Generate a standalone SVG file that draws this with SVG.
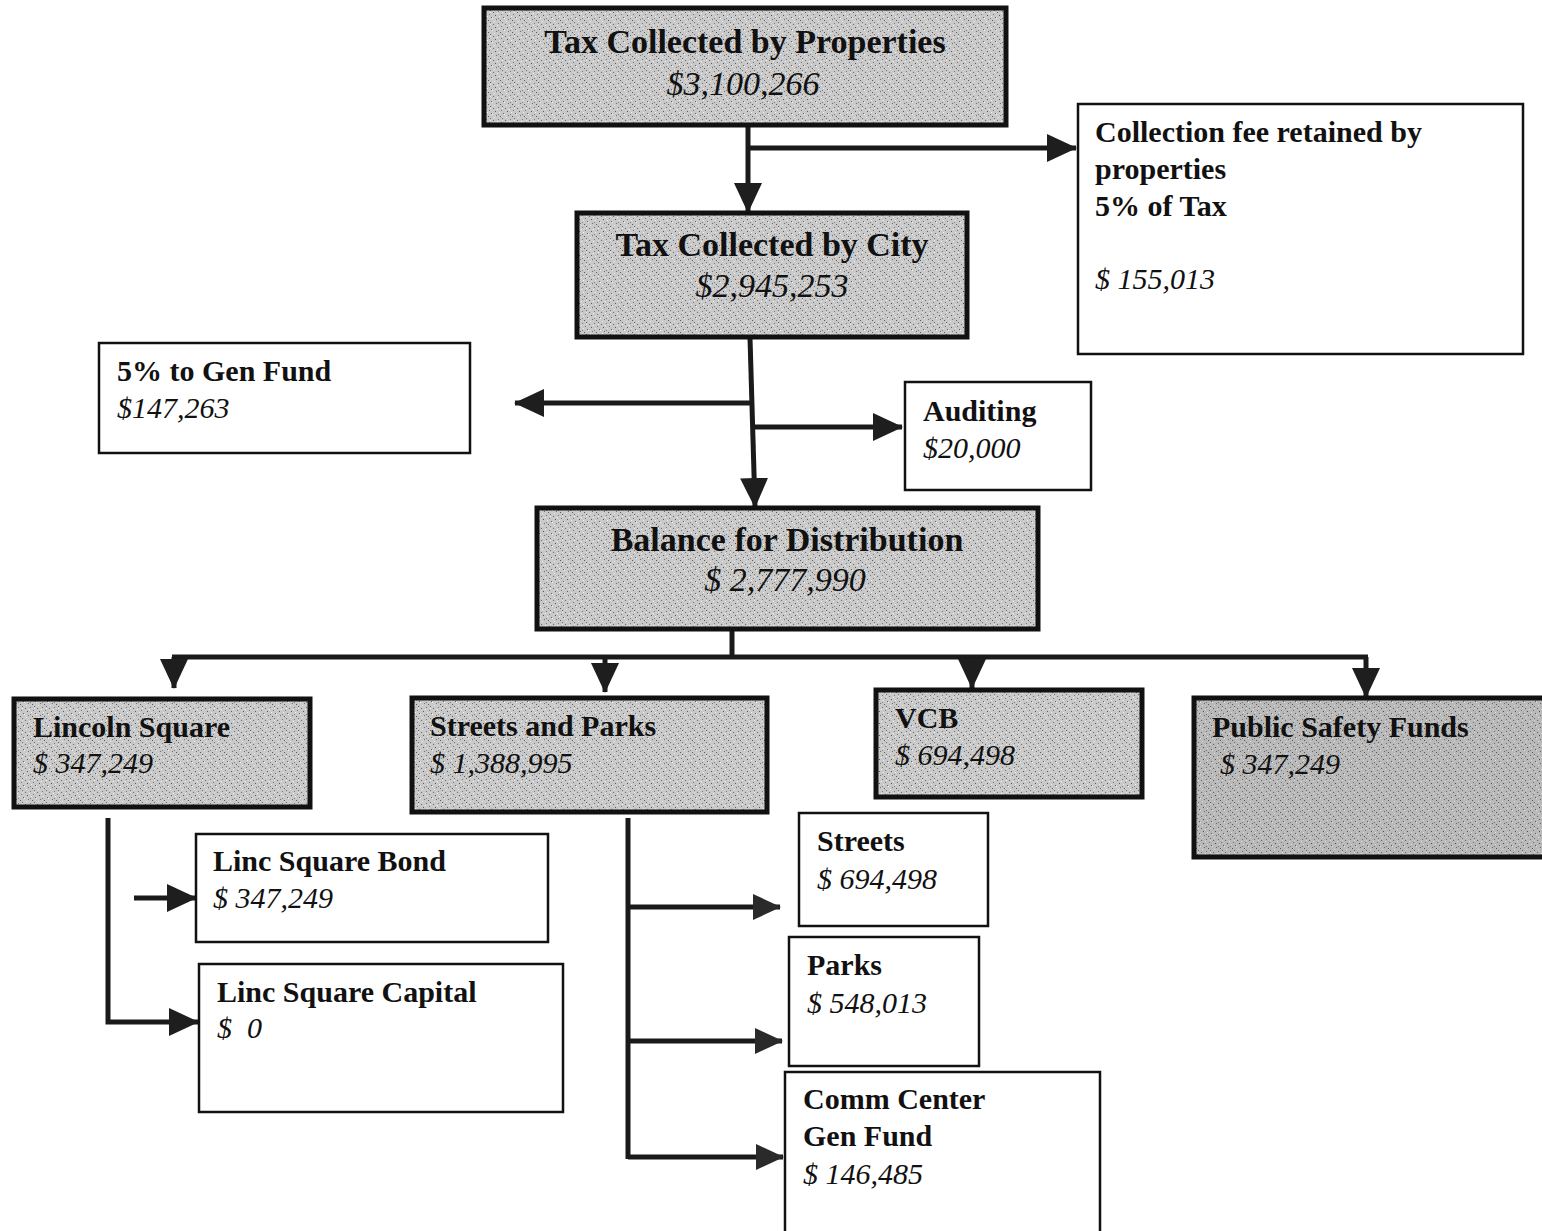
<svg xmlns="http://www.w3.org/2000/svg" width="1542" height="1231" viewBox="0 0 1542 1231">
<defs>
<pattern id="stip" width="12" height="12" patternUnits="userSpaceOnUse">
<rect width="12" height="12" fill="#c9c9c9"/>
<rect x="1" y="0" width="1" height="1" fill="#6a6a6a"/>
<rect x="5" y="1" width="1" height="1" fill="#f2f2f2"/>
<rect x="9" y="2" width="1" height="1" fill="#777"/>
<rect x="3" y="3" width="1" height="1" fill="#555"/>
<rect x="7" y="4" width="1" height="1" fill="#eee"/>
<rect x="11" y="5" width="1" height="1" fill="#666"/>
<rect x="0" y="6" width="1" height="1" fill="#f4f4f4"/>
<rect x="4" y="7" width="1" height="1" fill="#707070"/>
<rect x="8" y="8" width="1" height="1" fill="#5c5c5c"/>
<rect x="2" y="9" width="1" height="1" fill="#efefef"/>
<rect x="10" y="10" width="1" height="1" fill="#6e6e6e"/>
<rect x="6" y="11" width="1" height="1" fill="#7a7a7a"/>
<rect x="10" y="0" width="1" height="1" fill="#ececec"/>
<rect x="6" y="6" width="1" height="1" fill="#808080"/>
</pattern>
<pattern id="stipd" width="12" height="12" patternUnits="userSpaceOnUse">
<rect width="12" height="12" fill="url(#stip)"/>
<rect width="12" height="12" fill="#000" opacity="0.08"/>
</pattern>
<marker id="ah" viewBox="0 0 30 28" refX="29" refY="14" markerWidth="30" markerHeight="28" markerUnits="userSpaceOnUse" orient="auto">
<path d="M0,0 L30,14 L0,28 Z" fill="#1e1e1e"/>
</marker>
<marker id="ahs" viewBox="0 0 28 26" refX="27" refY="13" markerWidth="28" markerHeight="26" markerUnits="userSpaceOnUse" orient="auto">
<path d="M0,0 L28,13 L0,26 Z" fill="#2a2a2a"/>
</marker>
</defs>
<style>
.thick{fill:url(#stip);stroke:#111;stroke-width:5}
.thin{fill:#fff;stroke:#111;stroke-width:2.5}
.big{font-family:"Liberation Serif","Times New Roman",serif;font-size:34px;fill:#111}
.mid{font-family:"Liberation Serif","Times New Roman",serif;font-size:30px;fill:#111}
.b{font-weight:bold}
.i{font-style:italic}
.c{stroke:#1a1a1a;stroke-width:5;fill:none}
</style>
<rect width="1542" height="1231" fill="#fff"/>

<g id="connectors">
<path class="c" d="M748,126 V212" marker-end="url(#ah)"/>
<path class="c" d="M748,148 H1076" marker-end="url(#ah)"/>
<path class="c" d="M750,338 L755,507" marker-end="url(#ah)"/>
<path class="c" d="M750,403 H515" marker-end="url(#ah)"/>
<path class="c" d="M752,427 H902" marker-end="url(#ah)"/>
<path class="c" d="M732,630 V657"/>
<path class="c" d="M172,657 H1368"/>
<path class="c" d="M174,657 V688" marker-end="url(#ah)"/>
<path class="c" d="M605,657 V692" marker-end="url(#ah)"/>
<path class="c" d="M972,657 V688" marker-end="url(#ah)"/>
<path class="c" d="M1366,657 V697" marker-end="url(#ah)"/>
<path class="c" d="M108,818 V1022 H198" marker-end="url(#ah)"/>
<path class="c" d="M134,898 H196" marker-end="url(#ah)"/>
<path class="c" d="M628,818 V1159"/>
<path class="c" d="M628,907 H780" marker-end="url(#ahs)"/>
<path class="c" d="M628,1041 H782" marker-end="url(#ahs)"/>
<path class="c" d="M628,1157 H783" marker-end="url(#ahs)"/>
</g>

<g id="tax-properties">
<rect class="thick" x="484" y="8" width="522" height="117"/>
<text class="big b" x="745" y="53" text-anchor="middle">Tax Collected by Properties</text>
<text class="big i" x="743" y="95" text-anchor="middle">$3,100,266</text>
</g>

<g id="collection-fee">
<rect class="thin" x="1078" y="104" width="445" height="250"/>
<text class="mid b" x="1095" y="142">Collection fee retained by</text>
<text class="mid b" x="1095" y="179">properties</text>
<text class="mid b" x="1095" y="216">5% of Tax</text>
<text class="mid i" x="1095" y="289">$ 155,013</text>
</g>

<g id="tax-city">
<rect class="thick" x="577" y="213" width="390" height="124"/>
<text class="big b" x="772" y="256" text-anchor="middle">Tax Collected by City</text>
<text class="big i" x="772" y="297" text-anchor="middle">$2,945,253</text>
</g>

<g id="gen-fund">
<rect class="thin" x="99" y="343" width="371" height="110"/>
<text class="mid b" x="117" y="381">5% to Gen Fund</text>
<text class="mid i" x="117" y="418">$147,263</text>
</g>

<g id="auditing">
<rect class="thin" x="905" y="382" width="186" height="108"/>
<text class="mid b" x="923" y="421">Auditing</text>
<text class="mid i" x="923" y="458">$20,000</text>
</g>

<g id="balance">
<rect class="thick" x="537" y="508" width="501" height="121"/>
<text class="big b" x="787" y="551" text-anchor="middle">Balance for Distribution</text>
<text class="big i" x="785" y="591" text-anchor="middle">$ 2,777,990</text>
</g>

<g id="lincoln-square">
<rect class="thick" x="14" y="699" width="296" height="108"/>
<text class="mid b" x="33" y="737">Lincoln Square</text>
<text class="mid i" x="33" y="773">$ 347,249</text>
</g>

<g id="streets-parks">
<rect class="thick" x="412" y="698" width="355" height="114"/>
<text class="mid b" x="430" y="736">Streets and Parks</text>
<text class="mid i" x="430" y="773">$ 1,388,995</text>
</g>

<g id="vcb">
<rect class="thick" x="876" y="690" width="266" height="107"/>
<text class="mid b" x="895" y="728">VCB</text>
<text class="mid i" x="895" y="765">$ 694,498</text>
</g>

<g id="public-safety">
<rect class="thick" x="1194" y="698" width="352" height="159" style="fill:url(#stipd)"/>
<text class="mid b" x="1212" y="737">Public Safety Funds</text>
<text class="mid i" x="1220" y="774">$ 347,249</text>
</g>

<g id="linc-bond">
<rect class="thin" x="196" y="834" width="352" height="108"/>
<text class="mid b" x="213" y="871">Linc Square Bond</text>
<text class="mid i" x="213" y="908">$ 347,249</text>
</g>

<g id="linc-capital">
<rect class="thin" x="199" y="964" width="364" height="148"/>
<text class="mid b" x="217" y="1002">Linc Square Capital</text>
<text class="mid i" x="217" y="1038" xml:space="preserve">$  0</text>
</g>

<g id="streets">
<rect class="thin" x="799" y="813" width="189" height="113"/>
<text class="mid b" x="817" y="851">Streets</text>
<text class="mid i" x="817" y="889">$ 694,498</text>
</g>

<g id="parks">
<rect class="thin" x="789" y="937" width="190" height="129"/>
<text class="mid b" x="807" y="975">Parks</text>
<text class="mid i" x="807" y="1013">$ 548,013</text>
</g>

<g id="comm-center">
<rect class="thin" x="785" y="1072" width="315" height="170"/>
<text class="mid b" x="803" y="1109">Comm Center</text>
<text class="mid b" x="803" y="1146">Gen Fund</text>
<text class="mid i" x="803" y="1184">$ 146,485</text>
</g>
</svg>
